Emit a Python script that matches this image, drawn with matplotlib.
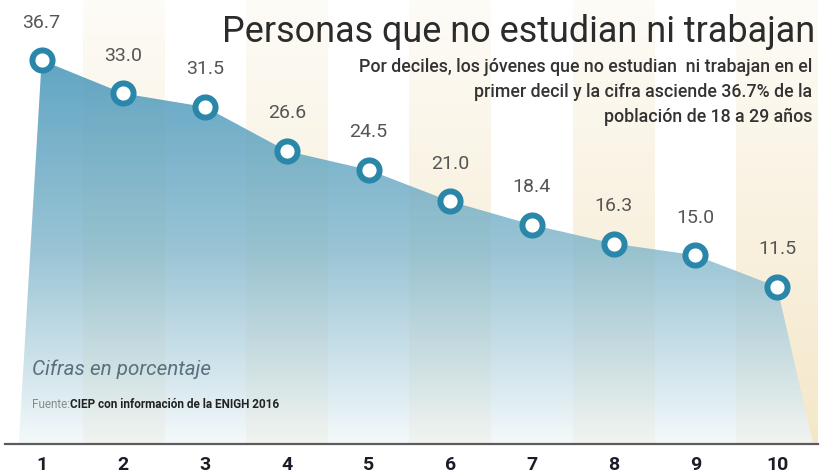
import numpy as np
import matplotlib
matplotlib.use("Agg")
import matplotlib.pyplot as plt
from matplotlib.colors import LinearSegmentedColormap
from matplotlib.patches import Polygon

# Daten: Anteil der Jugendlichen (18-29) die weder studieren noch arbeiten, nach Dezil
deciles = [1, 2, 3, 4, 5, 6, 7, 8, 9, 10]
values = [36.7, 33.0, 31.5, 26.6, 24.5, 21.0, 18.4, 16.3, 15.0, 11.5]
tick_labels = ["1", "2", "3", "4", "5", "6", "7", "8", "9", "10"]

title = "Personas que no estudian ni trabajan"
subtitle = ["Por deciles, los jóvenes que no estudian  ni trabajan en el",
            "primer decil y la cifra asciende 36.7% de la",
            "población de 18 a 29 años"]

FONT = ["Roboto", "DejaVu Sans"]

fig = plt.figure(figsize=(8.22, 4.75), dpi=100)
ax = fig.add_axes([0, 1 - 444 / 475, 1, 444 / 475])
xmin, xmax = 0.49, 10.55
ymin, ymax = -6.0, 43.4
ax.set_xlim(xmin, xmax)
ax.set_ylim(ymin, ymax)


def fit_width(txt, target_px):
    # Schriftgröße so anpassen, dass der Text die Breite wie im Original hat
    fig.canvas.draw()
    w = txt.get_window_extent().width
    txt.set_fontsize(txt.get_fontsize() * target_px / w)


# Streifen hinter geraden Dezilen (creme, nach unten kräftiger)
cream = np.array([0.95, 0.89, 0.74])
stripe = np.zeros((200, 1, 4))
stripe[:, 0, :3] = cream
stripe[:, 0, 3] = np.linspace(0.12, 0.8, 200)
for d in deciles:
    if d % 2 == 0:
        ax.imshow(stripe, extent=[d - 0.5, d + 0.5, ymin, ymax], origin="upper",
                  aspect="auto", zorder=0, interpolation="bilinear")

# Fläche mit Farbverlauf
x = np.array(deciles, dtype=float)
y = np.array(values)
verts = list(zip(x, y)) + [(x[-1] + 0.44, ymin), (x[0] - 0.28, ymin)]
poly = Polygon(verts, closed=True, facecolor="none", edgecolor="none")
ax.add_patch(poly)
cmap = LinearSegmentedColormap.from_list("area", ["#3f92b7", "#84b8cc", "#f2f8fa"])
grad = np.linspace(0, 1, 256).reshape(-1, 1)
img = ax.imshow(grad, extent=[xmin, xmax, ymin, max(values)], origin="upper",
                aspect="auto", cmap=cmap, alpha=0.82, zorder=1, interpolation="bilinear")
img.set_clip_path(poly)

# Punkte als Ringe
ax.plot(x, y, linestyle="none", marker="o", markersize=14.5, markerfacecolor="white",
        markeredgecolor="#2a87a9", markeredgewidth=4.3, zorder=3)

for xi, v in zip(deciles, values):
    ax.annotate(f"{v:.1f}", (xi, v), xytext=(0, 27), textcoords="offset points",
                ha="center", va="center", fontsize=14, color="#555555",
                family=FONT, zorder=4)

# Achsen
for side in ["top", "right", "left"]:
    ax.spines[side].set_visible(False)
ax.spines["bottom"].set_color("#5c5c5c")
ax.spines["bottom"].set_linewidth(1.6)
ax.spines["bottom"].set_bounds(xmin + 0.06, 10.5)
ax.spines["bottom"].set_zorder(5)
ax.set_yticks([])
ax.set_xticks(deciles)
ax.set_xticklabels(tick_labels, fontsize=14, fontweight="bold", color="#1c1c28",
                   family=FONT)
ax.tick_params(axis="x", length=0, pad=9)

# Titel und Untertitel
t_title = fig.text(0.9915, 1 - 42 / 475, title, ha="right", va="baseline", fontsize=26,
                   color="#2b2b2b", family=FONT)
fit_width(t_title, 593)
sub_texts = []
for i, line in enumerate(subtitle):
    sub_texts.append(fig.text(0.988, 1 - (72 + 25 * i) / 475, line, ha="right",
                              va="baseline", fontsize=13, color="#333333",
                              fontweight="medium", family=FONT))
fit_width(sub_texts[0], 452)
for t in sub_texts[1:]:
    t.set_fontsize(sub_texts[0].get_fontsize())

t_cifras = fig.text(32 / 822, 1 - 369 / 475, "Cifras en porcentaje", ha="left",
                    va="center", fontsize=13, style="italic", color="#5b6f7c", family=FONT)
fit_width(t_cifras, 178)
t = fig.text(32 / 822, 1 - 404 / 475, "Fuente:", ha="left", va="center",
             fontsize=8.5, color="#8a8a8a", family=FONT)
fig.canvas.draw()
bb = t.get_window_extent()
fig.text(bb.x1 / fig.bbox.width, 1 - 404 / 475, "CIEP con información de la ENIGH 2016",
         ha="left", va="center", fontsize=8.5, fontweight="bold", color="#222222",
         family=FONT)

fig.savefig("out.png", dpi=100, facecolor="white")
